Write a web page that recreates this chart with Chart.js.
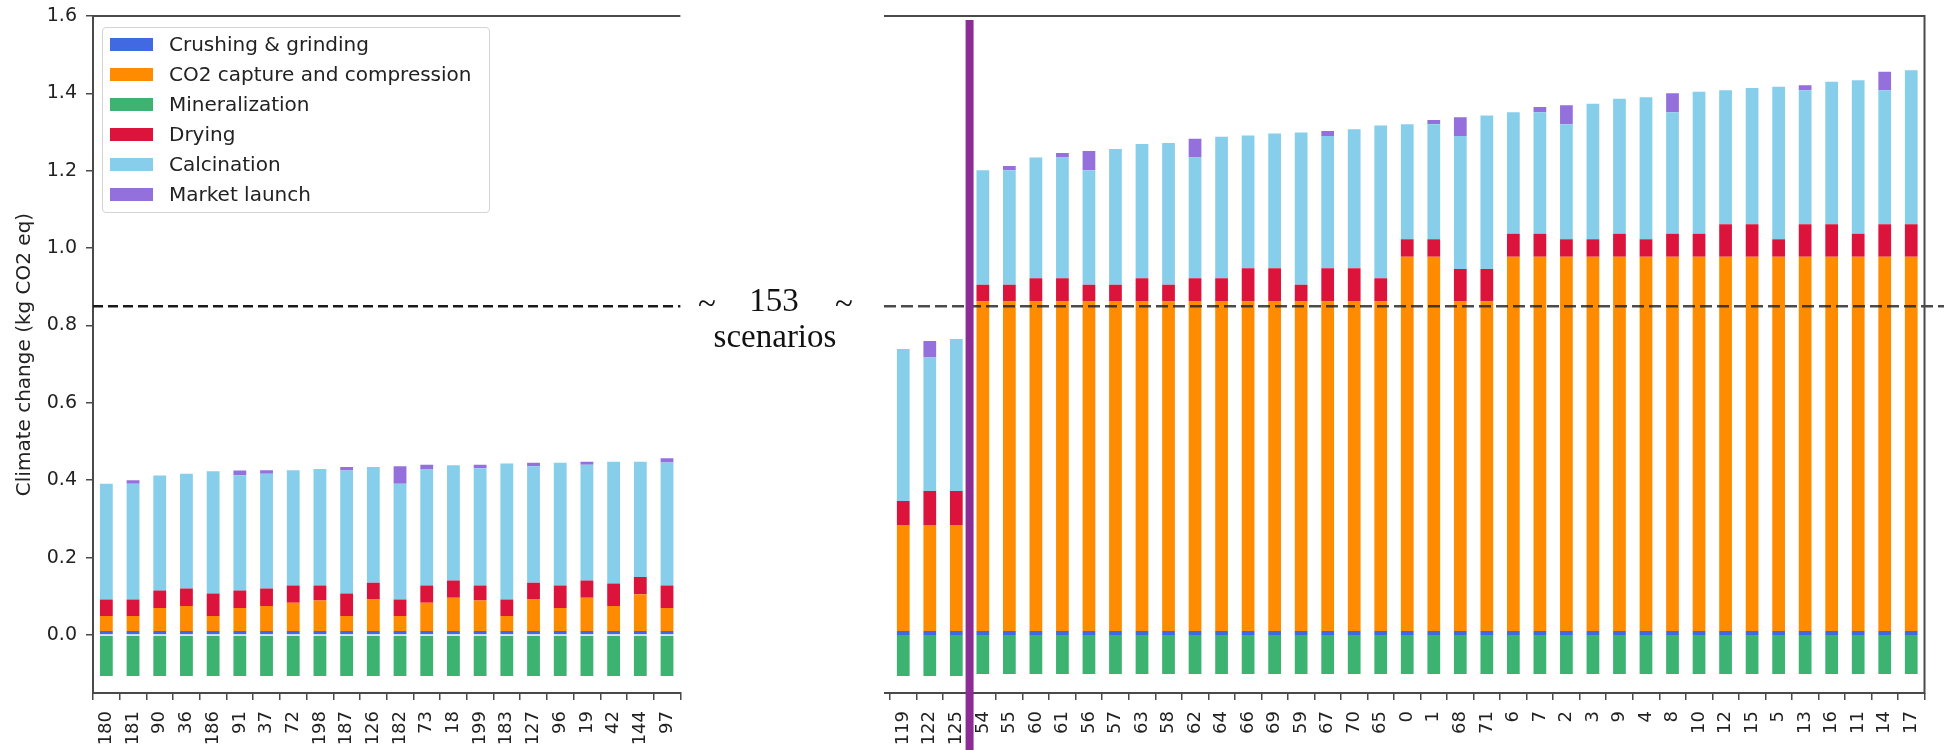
<!DOCTYPE html>
<html>
<head>
<meta charset="utf-8">
<title>Climate change per scenario</title>
<script src="https://cdn.jsdelivr.net/npm/chart.js@4.4.1/dist/chart.umd.min.js"></script>
<style>
  html, body { margin: 0; padding: 0; background: #fff; }
  body { width: 1944px; height: 750px; position: relative; overflow: hidden; font-family: 'DejaVu Sans', sans-serif; }
  .panel { position: absolute; top: 0; height: 750px; }
  #left-panel { left: 0; width: 700px; }
  #right-panel { left: 870px; width: 1074px; }
  .legend { position: absolute; left: 102px; top: 27px; width: 388px; height: 186px; border: 1px solid #d4d4d4; border-radius: 4px; background: rgba(255, 255, 255, 0.85); box-sizing: border-box; padding-top: 1px; z-index: 2; }
  .legend-row { height: 30px; display: flex; align-items: center; font-size: 20px; color: #222; white-space: nowrap; }
  .legend-swatch { width: 43px; height: 13px; margin-left: 7px; margin-right: 16px; }
  .gap-text { position: absolute; font-family: 'Liberation Serif', 'Times New Roman', serif; font-size: 33px; line-height: 33px; color: #111; transform: translateX(-50%); white-space: nowrap; }
</style>
</head>
<body>
<div class="panel" id="left-panel"><canvas id="left-chart"></canvas></div>
<div class="panel" id="right-panel"><canvas id="right-chart"></canvas></div>
<div class="legend" id="legend"></div>
<div class="gap-text" style="left: 707px; top: 287px;">~</div>
<div class="gap-text" style="left: 774px; top: 284px;">153</div>
<div class="gap-text" style="left: 844px; top: 287px;">~</div>
<div class="gap-text" style="left: 775px; top: 320px;">scenarios</div>

<script>
'use strict';

const seriesNames = ['Crushing & grinding', 'CO2 capture and compression', 'Mineralization', 'Drying', 'Calcination', 'Market launch'];
const seriesColors = ['#4169e1', '#ff8c00', '#3cb371', '#dc143c', '#87ceeb', '#9370db'];
const yTitle = 'Climate change (kg CO2 eq)';
const yTicks = [0, 0.2, 0.4, 0.6, 0.8, 1.0, 1.2, 1.4, 1.6];
const yMin = -0.15;
const yMax = 1.6;
const threshold = 0.85;
const dividerAfter = '125';

// left panel: the lowest-impact scenarios
const leftLabels = ['180', '181', '90', '36', '186', '91', '37', '72', '198', '187', '126', '182', '73', '18', '199', '183', '127', '96', '19', '42', '144', '97'];
const leftCrushing = [0.01, 0.01, 0.01, 0.01, 0.01, 0.01, 0.01, 0.01, 0.01, 0.01, 0.01, 0.01, 0.01, 0.01, 0.01, 0.01, 0.01, 0.01, 0.01, 0.01, 0.01, 0.01];
const leftCo2 = [0.039, 0.039, 0.060, 0.065, 0.039, 0.060, 0.065, 0.073, 0.079, 0.039, 0.082, 0.039, 0.073, 0.086, 0.079, 0.039, 0.082, 0.060, 0.086, 0.065, 0.095, 0.060];
const leftMineral = [-0.106, -0.106, -0.106, -0.106, -0.106, -0.106, -0.106, -0.106, -0.106, -0.106, -0.106, -0.106, -0.106, -0.106, -0.106, -0.106, -0.106, -0.106, -0.106, -0.106, -0.106, -0.106];
const leftDrying = [0.043, 0.043, 0.045, 0.045, 0.058, 0.045, 0.045, 0.045, 0.039, 0.058, 0.043, 0.043, 0.045, 0.045, 0.039, 0.043, 0.043, 0.058, 0.045, 0.058, 0.045, 0.058];
const leftCalcination = [0.299, 0.299, 0.297, 0.297, 0.316, 0.298, 0.297, 0.298, 0.301, 0.318, 0.299, 0.299, 0.300, 0.298, 0.303, 0.351, 0.301, 0.317, 0.299, 0.315, 0.298, 0.318];
const leftMarket = [0, 0.009, 0, 0, 0, 0.012, 0.009, 0, 0, 0.009, 0, 0.045, 0.012, 0, 0.009, 0, 0.009, 0, 0.008, 0, 0, 0.011];

// right panel: the highest-impact scenarios
const rightLabels = ['119', '122', '125', '54', '55', '60', '61', '56', '57', '63', '58', '62', '64', '66', '69', '59', '67', '70', '65', '0', '1', '68', '71', '6', '7', '2', '3', '9', '4', '8', '10', '12', '15', '5', '13', '16', '11', '14', '17'];
const rightCrushing = [0.01, 0.01, 0.01, 0.01, 0.01, 0.01, 0.01, 0.01, 0.01, 0.01, 0.01, 0.01, 0.01, 0.01, 0.01, 0.01, 0.01, 0.01, 0.01, 0.01, 0.01, 0.01, 0.01, 0.01, 0.01, 0.01, 0.01, 0.01, 0.01, 0.01, 0.01, 0.01, 0.01, 0.01, 0.01, 0.01, 0.01, 0.01, 0.01];
const rightCo2 = [0.274, 0.274, 0.274, 0.852, 0.852, 0.852, 0.852, 0.852, 0.852, 0.852, 0.852, 0.852, 0.852, 0.852, 0.852, 0.852, 0.852, 0.852, 0.852, 0.968, 0.968, 0.852, 0.852, 0.968, 0.968, 0.968, 0.968, 0.968, 0.968, 0.968, 0.968, 0.968, 0.968, 0.968, 0.968, 0.968, 0.968, 0.968, 0.968];
const rightMineral = [-0.106, -0.106, -0.106, -0.101, -0.101, -0.101, -0.101, -0.101, -0.101, -0.101, -0.101, -0.101, -0.101, -0.101, -0.101, -0.101, -0.101, -0.101, -0.101, -0.101, -0.101, -0.101, -0.101, -0.101, -0.101, -0.101, -0.101, -0.101, -0.101, -0.101, -0.101, -0.101, -0.101, -0.101, -0.101, -0.101, -0.101, -0.101, -0.101];
const rightDrying = [0.062, 0.088, 0.088, 0.043, 0.043, 0.060, 0.060, 0.043, 0.043, 0.060, 0.043, 0.060, 0.060, 0.086, 0.086, 0.043, 0.086, 0.086, 0.060, 0.045, 0.045, 0.084, 0.084, 0.059, 0.059, 0.045, 0.045, 0.059, 0.045, 0.059, 0.059, 0.084, 0.084, 0.045, 0.084, 0.084, 0.059, 0.084, 0.084];
const rightCalcination = [0.393, 0.345, 0.393, 0.296, 0.296, 0.312, 0.312, 0.296, 0.351, 0.347, 0.367, 0.312, 0.366, 0.343, 0.348, 0.394, 0.342, 0.359, 0.395, 0.297, 0.297, 0.344, 0.397, 0.314, 0.314, 0.297, 0.350, 0.349, 0.367, 0.314, 0.367, 0.346, 0.352, 0.394, 0.346, 0.368, 0.397, 0.346, 0.398];
const rightMarket = [0, 0.043, 0, 0, 0.011, 0, 0.012, 0.050, 0, 0, 0, 0.049, 0, 0, 0, 0, 0.013, 0, 0, 0, 0.011, 0.048, 0, 0, 0.014, 0.049, 0, 0, 0, 0.049, 0, 0, 0, 0, 0.013, 0, 0, 0.048, 0];

const spineColor = '#4a4a4a';
const textColor = '#222';

Chart.defaults.font.family = "'DejaVu Sans', sans-serif";
Chart.defaults.color = textColor;

function buildDatasets(series) {
  return seriesNames.map(function (name, i) {
    return {
      label: name,
      data: series[i],
      backgroundColor: seriesColors[i],
      borderWidth: 0,
      barPercentage: 0.48,
      categoryPercentage: 1,
    };
  });
}

// threshold line, extra spines and the purple divider
const decorPlugin = {
  id: 'decor',
  afterDatasetsDraw: function (chart, args, opts) {
    const ctx = chart.ctx;
    const area = chart.chartArea;
    const left = area.left - (opts.extendLeft || 0);
    const y = chart.scales.y.getPixelForValue(threshold);

    ctx.save();
    ctx.strokeStyle = opts.dashColor;
    ctx.lineWidth = 2.5;
    ctx.setLineDash(opts.dash);
    ctx.beginPath();
    ctx.moveTo(left, y);
    ctx.lineTo(opts.dashToEdge ? chart.width : area.right, y);
    ctx.stroke();

    ctx.setLineDash([]);
    ctx.strokeStyle = spineColor;
    ctx.lineWidth = 2;
    ctx.beginPath();
    ctx.moveTo(left, area.top);
    ctx.lineTo(area.right, area.top);
    if (opts.rightSpine) {
      ctx.lineTo(area.right, area.bottom);
      ctx.lineTo(left, area.bottom);
    }
    ctx.stroke();
    ctx.restore();
  },
  afterDraw: function (chart, args, opts) {
    if (!opts.divider) return;
    const labels = chart.data.labels;
    const idx = labels.indexOf(opts.divider);
    const x = chart.scales.x.getPixelForValue(idx + 0.5);
    const ctx = chart.ctx;
    ctx.save();
    ctx.fillStyle = '#8c2d95';
    ctx.fillRect(x - 4, chart.chartArea.top + 4, 8, chart.height);
    ctx.restore();
  },
};

function xAxis(showBorder) {
  return {
    stacked: true,
    afterFit: function (scale) { scale.height = 57; },
    grid: { display: true, drawOnChartArea: false, drawTicks: true, tickLength: 7, color: spineColor, lineWidth: 1.5 },
    border: { display: showBorder, color: spineColor, width: 2 },
    ticks: { color: textColor, font: { size: 18 }, minRotation: 90, maxRotation: 90, padding: 11, autoSkip: false },
  };
}

new Chart(document.getElementById('left-chart'), {
  type: 'bar',
  data: {
    labels: leftLabels,
    datasets: buildDatasets([leftCrushing, leftCo2, leftMineral, leftDrying, leftCalcination, leftMarket]),
  },
  options: {
    responsive: true,
    maintainAspectRatio: false,
    animation: false,
    layout: { padding: { top: 16, right: 17, bottom: 0, left: 0 } },
    plugins: {
      legend: { display: false },
      tooltip: { enabled: false },
      decor: { dash: [10, 5], dashColor: '#1a1a1a', dashToEdge: false, rightSpine: false },
    },
    scales: {
      x: xAxis(true),
      y: {
        stacked: true,
        min: yMin,
        max: yMax,
        afterFit: function (scale) {
          scale.width = 93;
          scale.paddingTop = 0;
          scale.paddingBottom = 0;
        },
        afterBuildTicks: function (scale) {
          scale.ticks = yTicks.map(function (v) { return { value: v }; });
        },
        grid: { display: true, drawOnChartArea: false, drawTicks: true, tickLength: 7, color: spineColor, lineWidth: 1.5 },
        border: { display: true, color: spineColor, width: 2 },
        ticks: {
          color: textColor,
          font: { size: 19 },
          padding: 9,
          callback: function (value) { return Number(value).toFixed(1); },
        },
        title: { display: true, text: yTitle, color: textColor, font: { size: 20 }, padding: { top: 13, bottom: 0 } },
      },
    },
  },
  plugins: [decorPlugin],
});

new Chart(document.getElementById('right-chart'), {
  type: 'bar',
  data: {
    labels: rightLabels,
    datasets: buildDatasets([rightCrushing, rightCo2, rightMineral, rightDrying, rightCalcination, rightMarket]),
  },
  options: {
    responsive: true,
    maintainAspectRatio: false,
    animation: false,
    layout: { padding: { top: 16, right: 12, bottom: 0, left: 20 } },
    plugins: {
      legend: { display: false },
      tooltip: { enabled: false },
      decor: { dash: [12, 5], dashColor: 'rgba(30, 30, 30, 0.8)', dashToEdge: true, rightSpine: true, extendLeft: 6, divider: dividerAfter },
    },
    scales: {
      x: xAxis(false),
      y: { stacked: true, display: false, min: yMin, max: yMax },
    },
  },
  plugins: [decorPlugin],
});

// legend box inside the left panel
const legendBox = document.getElementById('legend');
seriesNames.forEach(function (name, i) {
  const row = document.createElement('div');
  row.className = 'legend-row';
  const swatch = document.createElement('span');
  swatch.className = 'legend-swatch';
  swatch.style.background = seriesColors[i];
  const text = document.createElement('span');
  text.textContent = name;
  row.appendChild(swatch);
  row.appendChild(text);
  legendBox.appendChild(row);
});
</script>
</body>
</html>
